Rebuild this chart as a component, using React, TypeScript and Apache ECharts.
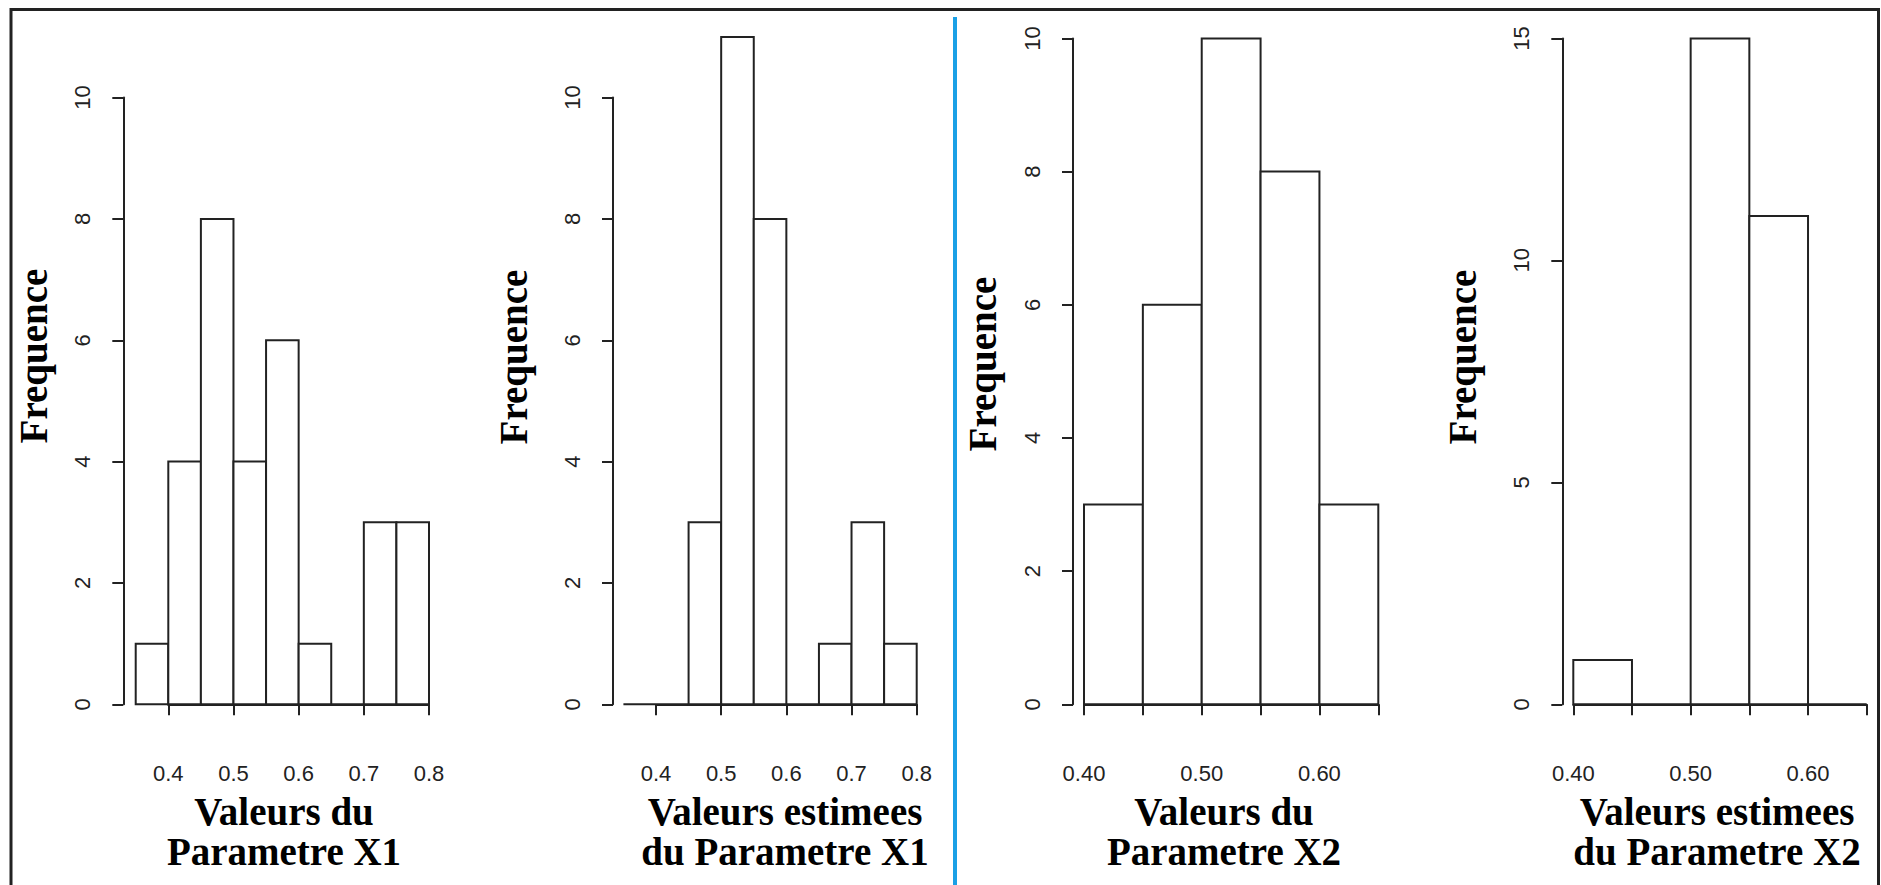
import React, { useEffect, useRef } from "react";
import * as echarts from "echarts";

// ---- data ----
const edgesX1 = [0.35, 0.4, 0.45, 0.5, 0.55, 0.6, 0.65, 0.7, 0.75, 0.8];
const countsX1 = [1, 4, 8, 4, 6, 1, 0, 3, 3];
const countsX1Est = [0, 0, 3, 11, 8, 0, 1, 3, 1];
const edgesX2 = [0.4, 0.45, 0.5, 0.55, 0.6, 0.65];
const countsX2 = [3, 6, 10, 8, 3];
const countsX2Est = [1, 0, 15, 11, 0];

const xTickLabelsX1 = ["0.4", "0.5", "0.6", "0.7", "0.8"];
const xTickLabelsX2 = ["0.40", "0.50", "0.60"];

const xTitles = [
  "Valeurs du\nParametre X1",
  "Valeurs estimees\ndu Parametre X1",
  "Valeurs du\nParametre X2",
  "Valeurs estimees\ndu Parametre X2",
];
const yTitle = "Frequence";

const toBins = (edges: number[], counts: number[]) =>
  counts.map((c, i) => [edges[i], edges[i + 1], c]);

// ---- layout ----
const panels = [
  { edges: edgesX1, counts: countsX1, xMin: 0.4, xMax: 0.8, xInt: 0.1, yMax: 10, yInt: 2, labels: xTickLabelsX1, dec: 1,
    left: 168.3, width: 260.7, top: 97.6, yOff: 45, titleX: 284, yTitleX: 33, yTitleY: 356 },
  { edges: edgesX1, counts: countsX1Est, xMin: 0.4, xMax: 0.8, xInt: 0.1, yMax: 10, yInt: 2, labels: xTickLabelsX1, dec: 1,
    left: 656, width: 260.7, top: 97.6, yOff: 43, titleX: 785, yTitleX: 513, yTitleY: 357 },
  { edges: edgesX2, counts: countsX2, xMin: 0.4, xMax: 0.65, xInt: 0.05, yMax: 10, yInt: 2, labels: xTickLabelsX2, dec: 2,
    left: 1084, width: 294.3, top: 38.4, yOff: 11, titleX: 1224, yTitleX: 982, yTitleY: 364 },
  { edges: edgesX2, counts: countsX2Est, xMin: 0.4, xMax: 0.65, xInt: 0.05, yMax: 15, yInt: 5, labels: xTickLabelsX2, dec: 2,
    left: 1573.3, width: 293.4, top: 38.4, yOff: 11, titleX: 1717, yTitleX: 1462, yTitleY: 357 },
];

const H = 885;
const W = 1881;
const ZERO_Y = 704.3;
const AX = "#222";

export default function App() {
  const ref = useRef<HTMLDivElement>(null);
  useEffect(() => {
    if (!ref.current) return;
    const chart = echarts.init(ref.current, undefined, { renderer: "svg" });
    const grids = panels.map((p) => ({
      left: p.left,
      width: p.width,
      top: p.top,
      bottom: H - ZERO_Y,
      containLabel: false,
    }));
    const xAxes = panels.map((p, i) => ({
      type: "value",
      gridIndex: i,
      min: p.xMin,
      max: p.xMax,
      interval: p.xInt,
      offset: 28,
      splitLine: { show: false },
      axisLine: { show: true, lineStyle: { color: AX, width: 2 } },
      axisTick: { show: true, length: 11, lineStyle: { color: AX, width: 2 } },
      axisLabel: {
        margin: 30,
        fontSize: 22,
        fontFamily: "Liberation Sans, Arial, sans-serif",
        color: "#222",
        formatter: (v: number) => {
          const s = v.toFixed(p.dec);
          return p.labels.includes(s) ? s : "";
        },
      },
    }));
    const yAxes = panels.map((p, i) => ({
      type: "value",
      gridIndex: i,
      min: 0,
      max: p.yMax,
      interval: p.yInt,
      offset: p.yOff,
      splitLine: { show: false },
      axisLine: { show: true, lineStyle: { color: AX, width: 2 } },
      axisTick: { show: true, length: 11, lineStyle: { color: AX, width: 2 } },
      axisLabel: {
        rotate: 90,
        margin: 30,
        fontSize: 22,
        fontFamily: "Liberation Sans, Arial, sans-serif",
        color: "#222",
      },
    }));
    const series = panels.map((p, i) => ({
      type: "custom",
      xAxisIndex: i,
      yAxisIndex: i,
      clip: false,
      data: toBins(p.edges, p.counts),
      encode: { x: [0, 1], y: 2 },
      renderItem: (_params: any, api: any) => {
        const a = api.coord([api.value(0), 0]);
        const b = api.coord([api.value(1), api.value(2)]);
        return {
          type: "rect",
          shape: { x: a[0], y: b[1], width: b[0] - a[0], height: a[1] - b[1] },
          style: { fill: "#fff", stroke: AX, lineWidth: 2 },
        };
      },
    }));
    const titleFont = {
      fontFamily: "Liberation Serif, Times New Roman, serif",
      fontWeight: "bold",
      fontSize: 39,
      fill: "#000",
    };
    const graphics: any[] = [
      {
        type: "rect",
        shape: { x: 11, y: 9.5, width: 1867.5, height: 900 },
        style: { fill: "none", stroke: "#222", lineWidth: 3 },
        silent: true,
      },
      {
        type: "line",
        shape: { x1: 955, y1: 17, x2: 955, y2: 885 },
        style: { stroke: "#1aa0e6", lineWidth: 4 },
        silent: true,
      },
    ];
    panels.forEach((p, i) => {
      graphics.push({
        type: "text",
        x: p.titleX,
        y: 791,
        style: {
          text: xTitles[i],
          ...titleFont,
          lineHeight: 40,
          align: "center",
          textAlign: "center",
          verticalAlign: "top",
          textVerticalAlign: "top",
        },
      });
      graphics.push({
        type: "text",
        x: p.yTitleX,
        y: p.yTitleY,
        rotation: Math.PI / 2,
        style: {
          text: yTitle,
          ...titleFont,
          align: "center",
          textAlign: "center",
          verticalAlign: "middle",
          textVerticalAlign: "middle",
        },
      });
    });
    chart.setOption({
      animation: false,
      backgroundColor: "#fff",
      grid: grids,
      xAxis: xAxes,
      yAxis: yAxes,
      series,
      graphic: graphics,
    });
    return () => chart.dispose();
  }, []);
  return (
    <div
      ref={ref}
      style={{ position: "absolute", left: 0, top: 0, width: W, height: H, background: "#fff" }}
    />
  );
}
